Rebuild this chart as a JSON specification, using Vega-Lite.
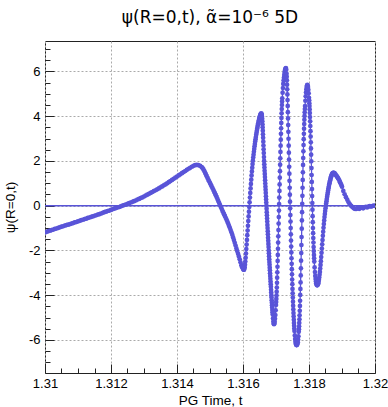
{
"$schema":"https://vega.github.io/schema/vega-lite/v6.json",
"width":330,"height":332,
"autosize":{"type":"none"},
"padding":{"left":45,"top":41,"right":13,"bottom":34},
"background":"white",
"title":{"text":"ψ(R=0,t), α̃=10⁻⁶ 5D","font":"DejaVu Sans","fontSize":17,"fontWeight":"normal","color":"#000","anchor":"middle","frame":"group","baseline":"alphabetic","offset":1},
"config":{"view":{"stroke":"#222","strokeWidth":1},"axis":{"domain":false,"labelFont":"Liberation Sans","labelFontSize":13,"labelColor":"#000","tickColor":"#222","titleFont":"Liberation Sans","titleFontSize":13.5,"titleFontWeight":"normal","titleColor":"#000","gridColor":"#aaa","gridDash":[2,2],"labelFlush":false,"labelOverlap":false}},
"data":{"values":[
{"t":1.31,"v":-1.19},{"t":1.3101,"v":-1.14},{"t":1.3102,"v":-1.09},{"t":1.3103,"v":-1.04},{"t":1.3104,"v":-0.99},{"t":1.3105,"v":-0.94},{"t":1.3106,"v":-0.89},{"t":1.3107,"v":-0.85},{"t":1.3108,"v":-0.8},{"t":1.3109,"v":-0.75},
{"t":1.311,"v":-0.7},{"t":1.3111,"v":-0.65},{"t":1.3112,"v":-0.6},{"t":1.3113,"v":-0.55},{"t":1.3114,"v":-0.5},{"t":1.3115,"v":-0.45},{"t":1.3116,"v":-0.4},{"t":1.3117,"v":-0.35},{"t":1.3118,"v":-0.29},{"t":1.3119,"v":-0.24},
{"t":1.312,"v":-0.19},{"t":1.3121,"v":-0.13},{"t":1.3122,"v":-0.08},{"t":1.3123,"v":-0.03},{"t":1.3124,"v":0.03},{"t":1.3125,"v":0.08},{"t":1.3126,"v":0.14},{"t":1.3127,"v":0.2},{"t":1.3128,"v":0.27},{"t":1.3129,"v":0.34},
{"t":1.313,"v":0.41},{"t":1.3131,"v":0.49},{"t":1.3132,"v":0.57},{"t":1.3133,"v":0.65},{"t":1.3134,"v":0.73},{"t":1.3135,"v":0.82},{"t":1.3136,"v":0.91},{"t":1.3137,"v":1.0},{"t":1.3138,"v":1.1},{"t":1.3139,"v":1.2},
{"t":1.314,"v":1.3},{"t":1.3141,"v":1.4},{"t":1.3142,"v":1.5},{"t":1.3143,"v":1.6},{"t":1.3144,"v":1.69},{"t":1.31445,"v":1.74},{"t":1.3145,"v":1.78},{"t":1.31455,"v":1.81},{"t":1.3146,"v":1.82},{"t":1.31465,"v":1.81},
{"t":1.3147,"v":1.78},{"t":1.31475,"v":1.72},{"t":1.3148,"v":1.62},{"t":1.31485,"v":1.48},{"t":1.3149,"v":1.32},{"t":1.31495,"v":1.16},{"t":1.315,"v":1.01},{"t":1.31505,"v":0.86},{"t":1.3151,"v":0.71},{"t":1.31515,"v":0.55},
{"t":1.3152,"v":0.39},{"t":1.31525,"v":0.21},{"t":1.3153,"v":0.04},{"t":1.31535,"v":-0.13},{"t":1.3154,"v":-0.3},{"t":1.31545,"v":-0.46},{"t":1.3155,"v":-0.62},{"t":1.31555,"v":-0.8},{"t":1.3156,"v":-0.99},{"t":1.31565,"v":-1.19},
{"t":1.3157,"v":-1.42},{"t":1.31575,"v":-1.66},{"t":1.3158,"v":-1.91},{"t":1.31585,"v":-2.15},{"t":1.3159,"v":-2.4},{"t":1.31595,"v":-2.66},
{"t":1.316,"v":-2.81},{"t":1.31601,"v":-2.84},{"t":1.31602,"v":-2.86},{"t":1.31603,"v":-2.86},{"t":1.31604,"v":-2.82},{"t":1.31605,"v":-2.75},{"t":1.31606,"v":-2.64},{"t":1.31607,"v":-2.5},{"t":1.31608,"v":-2.33},{"t":1.31609,"v":-2.14},
{"t":1.3161,"v":-1.94},{"t":1.31611,"v":-1.74},{"t":1.31612,"v":-1.53},{"t":1.31613,"v":-1.32},{"t":1.31614,"v":-1.11},{"t":1.31615,"v":-0.9},{"t":1.31616,"v":-0.69},{"t":1.31617,"v":-0.48},{"t":1.31618,"v":-0.27},{"t":1.31619,"v":-0.06},
{"t":1.3162,"v":0.15},{"t":1.31621,"v":0.36},{"t":1.31622,"v":0.57},{"t":1.31623,"v":0.77},{"t":1.31624,"v":0.97},{"t":1.31625,"v":1.16},{"t":1.31626,"v":1.35},{"t":1.31627,"v":1.53},{"t":1.31628,"v":1.7},{"t":1.31629,"v":1.86},
{"t":1.3163,"v":2.01},{"t":1.31631,"v":2.15},{"t":1.31632,"v":2.28},{"t":1.31633,"v":2.41},{"t":1.31634,"v":2.53},{"t":1.31635,"v":2.65},{"t":1.31636,"v":2.76},{"t":1.31637,"v":2.87},{"t":1.31638,"v":2.97},{"t":1.31639,"v":3.07},
{"t":1.3164,"v":3.17},{"t":1.31641,"v":3.26},{"t":1.31642,"v":3.35},{"t":1.31643,"v":3.44},{"t":1.31644,"v":3.52},{"t":1.31645,"v":3.6},{"t":1.31646,"v":3.67},{"t":1.31647,"v":3.74},{"t":1.31648,"v":3.81},{"t":1.31649,"v":3.87},
{"t":1.3165,"v":3.93},{"t":1.31651,"v":3.98},{"t":1.31652,"v":4.03},{"t":1.31653,"v":4.07},{"t":1.31654,"v":4.1},{"t":1.31655,"v":4.12},{"t":1.31656,"v":4.12},{"t":1.31657,"v":4.05},{"t":1.31658,"v":3.88},{"t":1.31659,"v":3.64},
{"t":1.3166,"v":3.35},{"t":1.31661,"v":3.03},{"t":1.31662,"v":2.69},{"t":1.31663,"v":2.35},{"t":1.31664,"v":2.0},{"t":1.31665,"v":1.71},{"t":1.31666,"v":1.42},{"t":1.31667,"v":1.14},{"t":1.31668,"v":0.85},{"t":1.31669,"v":0.57},
{"t":1.3167,"v":0.28},{"t":1.31671,"v":0.0},{"t":1.31672,"v":-0.29},{"t":1.31673,"v":-0.57},{"t":1.31674,"v":-0.86},{"t":1.31675,"v":-1.14},{"t":1.31676,"v":-1.43},{"t":1.31677,"v":-1.71},{"t":1.31678,"v":-2.0},{"t":1.31679,"v":-2.26},
{"t":1.3168,"v":-2.52},{"t":1.31681,"v":-2.77},{"t":1.31682,"v":-3.02},{"t":1.31683,"v":-3.27},{"t":1.31684,"v":-3.51},{"t":1.31685,"v":-3.76},{"t":1.31686,"v":-4.0},{"t":1.31687,"v":-4.23},{"t":1.31688,"v":-4.45},{"t":1.31689,"v":-4.66},
{"t":1.3169,"v":-4.86},{"t":1.31691,"v":-5.04},{"t":1.31692,"v":-5.18},{"t":1.31693,"v":-5.27},{"t":1.31694,"v":-5.3},{"t":1.31695,"v":-5.27},{"t":1.31696,"v":-5.19},{"t":1.31697,"v":-5.06},{"t":1.31698,"v":-4.89},{"t":1.31699,"v":-4.68},
{"t":1.317,"v":-4.44},{"t":1.31701,"v":-4.17},{"t":1.31702,"v":-3.85},{"t":1.31703,"v":-3.45},{"t":1.31704,"v":-2.98},{"t":1.31705,"v":-2.47},{"t":1.31706,"v":-1.93},{"t":1.31707,"v":-1.37},{"t":1.31708,"v":-0.8},{"t":1.31709,"v":-0.22},
{"t":1.3171,"v":0.36},{"t":1.31711,"v":0.95},{"t":1.31712,"v":1.54},{"t":1.31713,"v":2.12},{"t":1.31714,"v":2.68},{"t":1.31715,"v":3.21},{"t":1.31716,"v":3.7},{"t":1.31717,"v":4.13},{"t":1.31718,"v":4.5},{"t":1.31719,"v":4.8},
{"t":1.3172,"v":5.05},{"t":1.31721,"v":5.26},{"t":1.31722,"v":5.44},{"t":1.31723,"v":5.59},{"t":1.31724,"v":5.72},{"t":1.31725,"v":5.84},{"t":1.31726,"v":5.94},{"t":1.31727,"v":6.03},{"t":1.31728,"v":6.09},{"t":1.31729,"v":6.13},
{"t":1.3173,"v":6.15},{"t":1.31731,"v":6.08},{"t":1.31732,"v":5.9},{"t":1.31733,"v":5.6},{"t":1.31734,"v":5.2},{"t":1.31735,"v":4.72},{"t":1.31736,"v":4.18},{"t":1.31737,"v":3.6},{"t":1.31738,"v":2.99},{"t":1.31739,"v":2.37},
{"t":1.3174,"v":1.74},{"t":1.31741,"v":1.11},{"t":1.31742,"v":0.49},{"t":1.31743,"v":-0.12},{"t":1.31744,"v":-0.71},{"t":1.31745,"v":-1.28},{"t":1.31746,"v":-1.83},{"t":1.31747,"v":-2.35},{"t":1.31748,"v":-2.84},{"t":1.31749,"v":-3.3},
{"t":1.3175,"v":-3.72},{"t":1.31751,"v":-4.11},{"t":1.31752,"v":-4.47},{"t":1.31753,"v":-4.8},{"t":1.31754,"v":-5.1},{"t":1.31755,"v":-5.37},{"t":1.31756,"v":-5.6},{"t":1.31757,"v":-5.8},{"t":1.31758,"v":-5.96},{"t":1.31759,"v":-6.08},
{"t":1.3176,"v":-6.16},{"t":1.31761,"v":-6.21},{"t":1.31762,"v":-6.23},{"t":1.31763,"v":-6.23},{"t":1.31764,"v":-6.21},{"t":1.31765,"v":-6.17},{"t":1.31766,"v":-6.1},{"t":1.31767,"v":-5.99},{"t":1.31768,"v":-5.84},{"t":1.31769,"v":-5.64},
{"t":1.3177,"v":-5.39},{"t":1.31771,"v":-5.08},{"t":1.31772,"v":-4.7},{"t":1.31773,"v":-4.25},{"t":1.31774,"v":-3.72},{"t":1.31775,"v":-3.12},{"t":1.31776,"v":-2.46},{"t":1.31777,"v":-1.76},{"t":1.31778,"v":-1.03},{"t":1.31779,"v":-0.29},
{"t":1.3178,"v":0.44},{"t":1.31781,"v":1.15},{"t":1.31782,"v":1.82},{"t":1.31783,"v":2.43},{"t":1.31784,"v":2.97},{"t":1.31785,"v":3.44},{"t":1.31786,"v":3.84},{"t":1.31787,"v":4.17},{"t":1.31788,"v":4.45},{"t":1.31789,"v":4.69},
{"t":1.3179,"v":4.89},{"t":1.31791,"v":5.06},{"t":1.31792,"v":5.2},{"t":1.31793,"v":5.3},{"t":1.31794,"v":5.37},{"t":1.31795,"v":5.4},{"t":1.31796,"v":5.37},{"t":1.31797,"v":5.3},{"t":1.31798,"v":5.18},{"t":1.31799,"v":5.02},
{"t":1.318,"v":4.82},{"t":1.31801,"v":4.58},{"t":1.31802,"v":4.3},{"t":1.31803,"v":3.96},{"t":1.31804,"v":3.56},{"t":1.31805,"v":3.09},{"t":1.31806,"v":2.56},{"t":1.31807,"v":1.98},{"t":1.31808,"v":1.37},{"t":1.31809,"v":0.74},
{"t":1.3181,"v":0.12},{"t":1.31811,"v":-0.47},{"t":1.31812,"v":-1.0},{"t":1.31813,"v":-1.45},{"t":1.31814,"v":-1.85},{"t":1.31815,"v":-2.2},{"t":1.31816,"v":-2.5},{"t":1.31817,"v":-2.76},{"t":1.31818,"v":-2.97},{"t":1.31819,"v":-3.14},
{"t":1.3182,"v":-3.28},{"t":1.31821,"v":-3.39},{"t":1.31822,"v":-3.47},{"t":1.31823,"v":-3.52},{"t":1.31824,"v":-3.55},{"t":1.31825,"v":-3.56},{"t":1.31826,"v":-3.54},{"t":1.31827,"v":-3.51},{"t":1.31828,"v":-3.47},{"t":1.31829,"v":-3.4},
{"t":1.3183,"v":-3.31},{"t":1.31831,"v":-3.21},{"t":1.31832,"v":-3.09},{"t":1.31833,"v":-2.96},{"t":1.31834,"v":-2.81},{"t":1.31835,"v":-2.65},{"t":1.31836,"v":-2.48},{"t":1.31837,"v":-2.3},{"t":1.31838,"v":-2.11},{"t":1.31839,"v":-1.92},
{"t":1.3184,"v":-1.73},{"t":1.31841,"v":-1.54},{"t":1.31842,"v":-1.35},{"t":1.31843,"v":-1.17},{"t":1.31844,"v":-0.99},{"t":1.31845,"v":-0.82},{"t":1.31846,"v":-0.66},{"t":1.31847,"v":-0.51},{"t":1.31848,"v":-0.37},{"t":1.31849,"v":-0.24},
{"t":1.3185,"v":-0.12},{"t":1.31851,"v":-0.01},{"t":1.31852,"v":0.1},{"t":1.31853,"v":0.2},{"t":1.31854,"v":0.3},{"t":1.31855,"v":0.4},{"t":1.31856,"v":0.5},{"t":1.31857,"v":0.59},{"t":1.31858,"v":0.68},{"t":1.31859,"v":0.77},
{"t":1.3186,"v":0.85},{"t":1.31861,"v":0.93},{"t":1.31862,"v":1.0},{"t":1.31863,"v":1.07},{"t":1.31864,"v":1.13},{"t":1.31865,"v":1.19},{"t":1.31866,"v":1.25},{"t":1.31867,"v":1.3},{"t":1.31868,"v":1.34},{"t":1.31869,"v":1.38},
{"t":1.3187,"v":1.41},{"t":1.31871,"v":1.43},{"t":1.31872,"v":1.45},{"t":1.31873,"v":1.46},{"t":1.31874,"v":1.47},{"t":1.31875,"v":1.47},{"t":1.31876,"v":1.46},{"t":1.31878,"v":1.44},{"t":1.3188,"v":1.4},{"t":1.31882,"v":1.36},
{"t":1.31884,"v":1.32},{"t":1.31886,"v":1.28},{"t":1.31888,"v":1.23},{"t":1.3189,"v":1.18},{"t":1.31892,"v":1.12},{"t":1.31894,"v":1.05},{"t":1.31896,"v":0.99},{"t":1.31898,"v":0.92},{"t":1.319,"v":0.85},
{"t":1.31904,"v":0.66},{"t":1.31908,"v":0.51},{"t":1.31912,"v":0.38},{"t":1.31916,"v":0.26},{"t":1.3192,"v":0.15},{"t":1.31924,"v":0.06},{"t":1.31928,"v":-0.01},{"t":1.31932,"v":-0.07},{"t":1.31936,"v":-0.12},{"t":1.3194,"v":-0.15},
{"t":1.31944,"v":-0.14},{"t":1.31948,"v":-0.1},{"t":1.31952,"v":-0.14},{"t":1.31956,"v":-0.11},{"t":1.3196,"v":-0.08},{"t":1.31964,"v":-0.12},{"t":1.31968,"v":-0.07},{"t":1.31972,"v":-0.05},{"t":1.31976,"v":-0.08},{"t":1.3198,"v":-0.04},
{"t":1.31984,"v":-0.02},{"t":1.31988,"v":-0.04},{"t":1.31992,"v":-0.02},{"t":1.31996,"v":0.0},{"t":1.32,"v":-0.01},
{"t":1.31005,"v":-1.17},{"t":1.31015,"v":-1.12},{"t":1.31025,"v":-1.07},{"t":1.31035,"v":-1.02},{"t":1.31045,"v":-0.97},{"t":1.31055,"v":-0.92},{"t":1.31065,"v":-0.87},{"t":1.31075,"v":-0.83},{"t":1.31085,"v":-0.78},{"t":1.31095,"v":-0.73},
{"t":1.31105,"v":-0.68},{"t":1.31115,"v":-0.63},{"t":1.31125,"v":-0.58},{"t":1.31135,"v":-0.53},{"t":1.31145,"v":-0.48},{"t":1.31155,"v":-0.43},{"t":1.31165,"v":-0.38},{"t":1.31175,"v":-0.32},{"t":1.31185,"v":-0.27},{"t":1.31195,"v":-0.22},
{"t":1.31205,"v":-0.16},{"t":1.31215,"v":-0.11},{"t":1.31225,"v":-0.06},{"t":1.31235,"v":0.0},{"t":1.31245,"v":0.05},{"t":1.31255,"v":0.11},{"t":1.31265,"v":0.17},{"t":1.31275,"v":0.23},{"t":1.31285,"v":0.3},{"t":1.31295,"v":0.37},
{"t":1.31305,"v":0.45},{"t":1.31315,"v":0.53},{"t":1.31325,"v":0.61},{"t":1.31335,"v":0.69},{"t":1.31345,"v":0.77},{"t":1.31355,"v":0.86},{"t":1.31365,"v":0.95},{"t":1.31375,"v":1.05},{"t":1.31385,"v":1.15},{"t":1.31395,"v":1.25},
{"t":1.31405,"v":1.35},{"t":1.31415,"v":1.45},{"t":1.31425,"v":1.55},{"t":1.31435,"v":1.65},
{"t":1.314775,"v":1.68},{"t":1.314825,"v":1.56},{"t":1.314875,"v":1.4},{"t":1.314925,"v":1.24},{"t":1.314975,"v":1.09},{"t":1.315025,"v":0.94},{"t":1.315075,"v":0.79},{"t":1.315125,"v":0.63},{"t":1.315175,"v":0.47},{"t":1.315225,"v":0.3},
{"t":1.315275,"v":0.13},{"t":1.315325,"v":-0.05},{"t":1.315375,"v":-0.22},{"t":1.315425,"v":-0.38},{"t":1.315475,"v":-0.54},{"t":1.315525,"v":-0.71},{"t":1.315575,"v":-0.9},{"t":1.315625,"v":-1.09},{"t":1.315675,"v":-1.3},{"t":1.315725,"v":-1.54},
{"t":1.315775,"v":-1.78},{"t":1.315825,"v":-2.03},{"t":1.315875,"v":-2.27},{"t":1.315925,"v":-2.53},{"t":1.315975,"v":-2.75},
{"t":1.316575,"v":3.97},{"t":1.316585,"v":3.77},{"t":1.316595,"v":3.5},{"t":1.316605,"v":3.19},{"t":1.316615,"v":2.86},{"t":1.316625,"v":2.52},{"t":1.316635,"v":2.17},{"t":1.316645,"v":1.85},{"t":1.316655,"v":1.56},{"t":1.316665,"v":1.28},
{"t":1.316675,"v":0.99},{"t":1.316685,"v":0.71},{"t":1.316695,"v":0.42},{"t":1.316705,"v":0.14},{"t":1.316715,"v":-0.14},{"t":1.316725,"v":-0.43},{"t":1.316735,"v":-0.71},{"t":1.316745,"v":-1.0},{"t":1.316755,"v":-1.28},{"t":1.316765,"v":-1.57},
{"t":1.316775,"v":-1.85},{"t":1.316785,"v":-2.13},{"t":1.316795,"v":-2.39},{"t":1.316805,"v":-2.64},{"t":1.316815,"v":-2.89},{"t":1.316825,"v":-3.14},{"t":1.316835,"v":-3.39},{"t":1.316845,"v":-3.63},{"t":1.316855,"v":-3.88},{"t":1.316865,"v":-4.11},
{"t":1.316875,"v":-4.34},{"t":1.316885,"v":-4.55},{"t":1.316895,"v":-4.76},
{"t":1.317005,"v":-4.31},{"t":1.317015,"v":-4.02},{"t":1.317025,"v":-3.66},{"t":1.317035,"v":-3.22},{"t":1.317045,"v":-2.73},{"t":1.317055,"v":-2.2},{"t":1.317065,"v":-1.65},{"t":1.317075,"v":-1.09},{"t":1.317085,"v":-0.51},{"t":1.317095,"v":0.07},
{"t":1.317105,"v":0.66},{"t":1.317115,"v":1.25},{"t":1.317125,"v":1.83},{"t":1.317135,"v":2.4},{"t":1.317145,"v":2.95},{"t":1.317155,"v":3.46},{"t":1.317165,"v":3.92},{"t":1.317175,"v":4.32},{"t":1.317185,"v":4.66},
{"t":1.317325,"v":5.76},{"t":1.317335,"v":5.41},{"t":1.317345,"v":4.97},{"t":1.317355,"v":4.46},{"t":1.317365,"v":3.9},{"t":1.317375,"v":3.3},{"t":1.317385,"v":2.68},{"t":1.317395,"v":2.06},{"t":1.317405,"v":1.43},{"t":1.317415,"v":0.8},
{"t":1.317425,"v":0.18},{"t":1.317435,"v":-0.42},{"t":1.317445,"v":-1.0},{"t":1.317455,"v":-1.56},{"t":1.317465,"v":-2.09},{"t":1.317475,"v":-2.6},{"t":1.317485,"v":-3.07},{"t":1.317495,"v":-3.51},{"t":1.317505,"v":-3.92},{"t":1.317515,"v":-4.29},
{"t":1.317525,"v":-4.64},{"t":1.317535,"v":-4.95},{"t":1.317545,"v":-5.24},{"t":1.317555,"v":-5.49},
{"t":1.317695,"v":-5.52},{"t":1.317705,"v":-5.24},{"t":1.317715,"v":-4.9},{"t":1.317725,"v":-4.48},{"t":1.317735,"v":-3.99},{"t":1.317745,"v":-3.43},{"t":1.317755,"v":-2.8},{"t":1.317765,"v":-2.12},{"t":1.317775,"v":-1.4},{"t":1.317785,"v":-0.66},
{"t":1.317795,"v":0.08},{"t":1.317805,"v":0.8},{"t":1.317815,"v":1.49},{"t":1.317825,"v":2.13},{"t":1.317835,"v":2.71},{"t":1.317845,"v":3.21},{"t":1.317855,"v":3.65},{"t":1.317865,"v":4.01},{"t":1.317875,"v":4.32},
{"t":1.318005,"v":4.71},{"t":1.318015,"v":4.45},{"t":1.318025,"v":4.14},{"t":1.318035,"v":3.77},{"t":1.318045,"v":3.33},{"t":1.318055,"v":2.83},{"t":1.318065,"v":2.28},{"t":1.318075,"v":1.68},{"t":1.318085,"v":1.06},{"t":1.318095,"v":0.43},
{"t":1.318105,"v":-0.18},{"t":1.318115,"v":-0.74},{"t":1.318125,"v":-1.23},{"t":1.318135,"v":-1.65},{"t":1.318145,"v":-2.03},{"t":1.318155,"v":-2.35}
]},
"layer":[
{"data":{"values":[{"zero":0}]},
 "mark":{"type":"rule","color":"#5954d8","strokeWidth":1.5},
 "encoding":{"y":{"field":"zero","type":"quantitative","scale":{"domain":[-7.48,7.36],"nice":false,"zero":false},"axis":null}}},
{"mark":{"type":"line","color":"#5954d8","strokeWidth":1.3,"clip":true},
 "encoding":{
  "x":{"field":"t","type":"quantitative","scale":{"domain":[1.31,1.32],"nice":false,"zero":false},
   "axis":{"orient":"bottom","values":[1.31,1.312,1.314,1.316,1.318,1.32],"format":".4~f","tickSize":-9,"labelPadding":13,"grid":true,"title":"PG Time, t","titlePadding":3}},
  "y":{"field":"v","type":"quantitative","scale":{"domain":[-7.48,7.36],"nice":false,"zero":false},
   "axis":{"orient":"left","values":[-6,-4,-2,0,2,4,6],"labelExpr":"'' + datum.value","tickSize":-9,"labelPadding":14,"grid":true,"title":"ψ(R=0,t)","titlePadding":11}}}},
{"mark":{"type":"circle","color":"#5954d8","size":22,"opacity":1,"clip":true},
 "encoding":{
  "x":{"field":"t","type":"quantitative","axis":{"orient":"bottom","values":[1.3105,1.311,1.3115,1.312,1.3125,1.313,1.3135,1.314,1.3145,1.315,1.3155,1.316,1.3165,1.317,1.3175,1.318,1.3185,1.319,1.3195],"labels":false,"grid":false,"tickSize":-5,"title":null}},
  "y":{"field":"v","type":"quantitative","axis":{"orient":"left","values":[-7,-6.5,-6,-5.5,-5,-4.5,-4,-3.5,-3,-2.5,-2,-1.5,-1,-0.5,0,0.5,1,1.5,2,2.5,3,3.5,4,4.5,5,5.5,6,6.5,7],"labels":false,"grid":false,"tickSize":-5,"title":null}}}}
],
"resolve":{"axis":{"x":"independent","y":"independent"}}
}
